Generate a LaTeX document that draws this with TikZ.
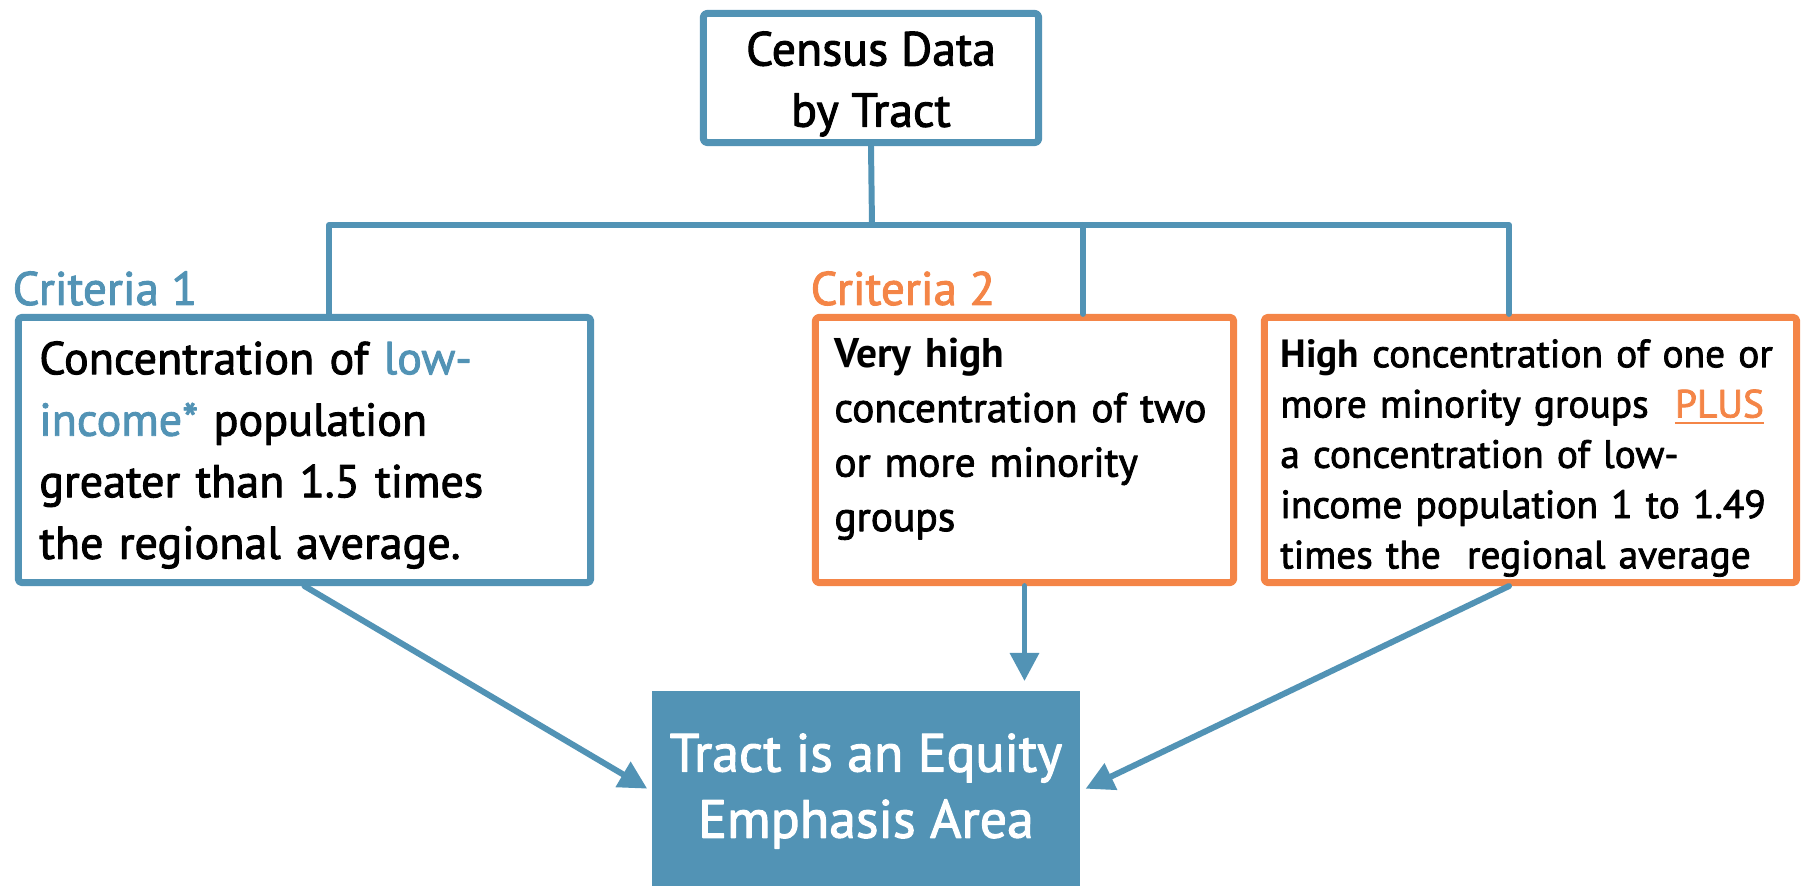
\documentclass[tikz,border=0pt]{standalone}
\usepackage{fontspec}
\setmainfont{PT Sans}[UprightFeatures={FakeBold=2}]
\usepackage{tikz}
\usetikzlibrary{arrows.meta, calc, positioning}
\usepackage{xcolor}
\definecolor{eeablue}{RGB}{82, 147, 181}
\definecolor{eeaorange}{RGB}{244, 133, 71}

\begin{document}
\begin{tikzpicture}[line cap=round, line join=round, >=Triangle, x=0.01cm, y=-0.01cm,
    bluebox/.style={draw=eeablue, line width=2pt, rounded corners=1pt, inner sep=0pt},
    orangebox/.style={draw=eeaorange, line width=2pt, rounded corners=1pt, inner sep=0pt},
    boxtext/.style={inner sep=0pt, align=left},
    link/.style={eeablue, line width=1.7pt},
    arrow/.style={->, eeablue, line width=1.7pt, >={Triangle[length=8pt,width=8pt]}}]
    \useasboundingbox (0,0) rectangle (1802,886);

    % top box
    \node[bluebox, minimum width=3.35cm, minimum height=1.29cm] (census) at (871,78) {};
    \node[inner sep=0pt, align=center, font=\fontsize{13.6pt}{17.4pt}\selectfont]
          (censustext) at ([shift={(0,6)}]census.center) {Census Data\\by Tract};

    % criteria boxes
    \node[bluebox, minimum width=5.72cm, minimum height=2.65cm] (crit1) at (304.5,450) {};
    \node[boxtext, text width=5.3cm, font=\fontsize{13.1pt}{17.5pt}\selectfont]
          (crit1text) at ([shift={(0,5)}]crit1.center)
          {Concentration of \textcolor{eeablue}{low-}\\\textcolor{eeablue}{income*} population\\greater than 1.5 times\\the regional average.};
    \node[orangebox, minimum width=4.18cm, minimum height=2.65cm] (crit2a) at (1024.5,450) {};
    \node[boxtext, text width=3.8cm, font=\fontsize{11.8pt}{15.5pt}\selectfont]
          (crit2atext) at ([shift={(0,-11)}]crit2a.center)
          {\textbf{Very high}\\concentration of two\\or more minority\\groups};
    \node[orangebox, minimum width=5.32cm, minimum height=2.65cm] (crit2b) at (1530.5,450) {};
    \node[boxtext, text width=5.0cm, font=\fontsize{11.2pt}{14.3pt}\selectfont]
          (crit2btext) at ([shift={(0,8)}]crit2b.center)
          {\textbf{High} concentration of one or\\more minority groups~~\textcolor{eeaorange}{\underline{PLUS}}\\a concentration of low-\\income population 1 to 1.49\\times the~~regional average};

    % labels
    \node[anchor=base west, inner sep=0pt, text=eeablue, font=\fontsize{13.4pt}{16pt}\selectfont]
          (lab1) at (12,305) {Criteria 1};
    \node[anchor=base west, inner sep=0pt, text=eeaorange, font=\fontsize{13.4pt}{16pt}\selectfont]
          (lab2) at (810,305) {Criteria 2};

    % result
    \node[fill=eeablue, minimum width=4.28cm, minimum height=2.0cm, align=center, text=white,
          font=\fontsize{15.3pt}{18.8pt}\selectfont] (result) at (866,791)
          {Tract is an Equity\\Emphasis Area};

    % tree lines
    \coordinate (split) at (872,225);
    \coordinate (d1) at (329,225);
    \coordinate (d2) at (1083,225);
    \coordinate (d3) at (1509,225);
    \draw[link] (census.south) -- (split);
    \draw[link] (d1 |- crit1.north) -- (d1) -- (d3) -- (d3 |- crit2b.north);
    \draw[link] (d2) -- (d2 |- crit2a.north);

    % arrows
    \draw[arrow, shorten >=1.3pt] (crit1.south) -- (result.west);
    \draw[arrow, shorten >=2.6pt] (crit2a.south) -- (crit2a.south |- result.north);
    \draw[arrow, shorten >=1.5pt] (d3 |- crit2b.south) -- (result.east);
\end{tikzpicture}
\end{document}
